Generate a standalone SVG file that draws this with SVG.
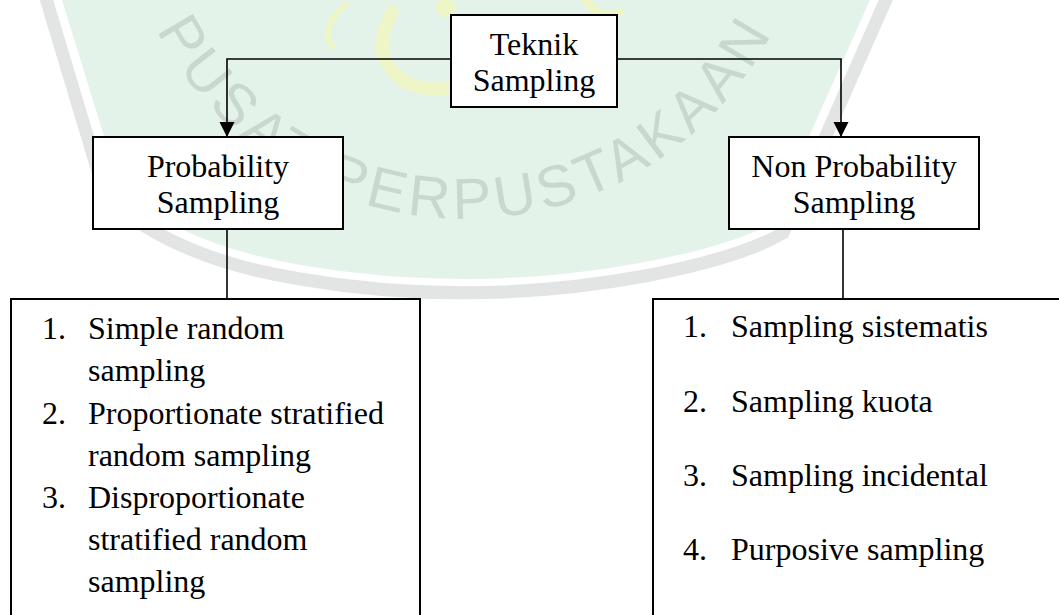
<svg xmlns="http://www.w3.org/2000/svg" width="1059" height="615" viewBox="0 0 1059 615">
  <defs>
    <style>
      .box { fill: #ffffff; stroke: #000000; stroke-width: 2; }
      .conn { fill: none; stroke: #000000; stroke-width: 1.6; }
      .lbl { font-family: "Liberation Serif", "Times New Roman", serif; font-size: 32px; fill: #000000; }
      .mid { text-anchor: middle; }
      .wm-text { font-family: "Liberation Sans", Arial, sans-serif; font-size: 58px; fill: #c9d8ce; letter-spacing: 5px; }
    </style>
    <marker id="arrow" markerUnits="userSpaceOnUse" markerWidth="16" markerHeight="16" refX="15" refY="7.5" orient="auto">
      <path d="M0,0 L15,7.5 L0,15 Z" fill="#000000"/>
    </marker>
    <path id="wmArc" d="M124.3,-66.9 A346,346 0 0 0 805.7,-66.9"/>
  </defs>

  <rect x="0" y="0" width="1059" height="615" fill="#ffffff"/>

  <!-- watermark -->
  <g id="watermark">
    <path d="M45,-5 L105,195 Q170,258 300,279 Q470,308 645,276 Q740,258 783,233 L888,-5" fill="none" stroke="#e3e5e4" stroke-width="13"/>
    <path d="M62,0 L120,188 Q180,244 300,265 Q470,294 640,263 Q730,246 770,224 L870,0 Z" fill="#e4f3ea"/>
    <path d="M346,4 Q318,30 332,46" fill="none" stroke="#eef5c6" stroke-width="6" stroke-linecap="round"/>
    <path d="M392,12 Q366,62 410,84 Q440,96 468,80" fill="none" stroke="#eef5c6" stroke-width="13" stroke-linecap="round"/>
    <ellipse cx="446" cy="8" rx="10" ry="9" fill="#eef5c6"/>
    <path d="M585,0 Q600,20 620,12" fill="none" stroke="#eef5c6" stroke-width="8" stroke-linecap="round"/>
    <text class="wm-text"><textPath href="#wmArc" startOffset="50%" text-anchor="middle">PUSAT PERPUSTAKAAN</textPath></text>
  </g>

  <!-- connectors -->
  <g id="connectors">
    <path class="conn" d="M451,59 L227,59 L227,137" marker-end="url(#arrow)"/>
    <path class="conn" d="M617,59 L841,59 L841,137" marker-end="url(#arrow)"/>
    <path class="conn" d="M227,229 L227,299"/>
    <path class="conn" d="M843,229 L843,302"/>
  </g>

  <!-- nodes -->
  <g id="node-teknik">
    <rect class="box" x="451" y="15" width="166" height="92"/>
    <text class="lbl mid" x="534" y="55">Teknik</text>
    <text class="lbl mid" x="534" y="91">Sampling</text>
  </g>

  <g id="node-probability">
    <rect class="box" x="93" y="137" width="250" height="92"/>
    <text class="lbl mid" x="218" y="177">Probability</text>
    <text class="lbl mid" x="218" y="213">Sampling</text>
  </g>

  <g id="node-nonprobability">
    <rect class="box" x="729" y="137" width="250" height="92"/>
    <text class="lbl mid" x="854" y="177">Non Probability</text>
    <text class="lbl mid" x="854" y="213">Sampling</text>
  </g>

  <g id="node-probability-list">
    <rect class="box" x="11" y="299" width="409" height="340"/>
    <text class="lbl" x="42" y="339">1.</text>
    <text class="lbl" x="88" y="339">Simple random</text>
    <text class="lbl" x="88" y="381">sampling</text>
    <text class="lbl" x="42" y="424">2.</text>
    <text class="lbl" x="88" y="424">Proportionate stratified</text>
    <text class="lbl" x="88" y="466">random sampling</text>
    <text class="lbl" x="42" y="508">3.</text>
    <text class="lbl" x="88" y="508">Disproportionate</text>
    <text class="lbl" x="88" y="550">stratified random</text>
    <text class="lbl" x="88" y="592">sampling</text>
  </g>

  <g id="node-nonprobability-list">
    <rect class="box" x="653" y="299" width="430" height="340"/>
    <text class="lbl" x="683" y="337">1.</text>
    <text class="lbl" x="731" y="337">Sampling sistematis</text>
    <text class="lbl" x="683" y="412">2.</text>
    <text class="lbl" x="731" y="412">Sampling kuota</text>
    <text class="lbl" x="683" y="486">3.</text>
    <text class="lbl" x="731" y="486">Sampling incidental</text>
    <text class="lbl" x="683" y="560">4.</text>
    <text class="lbl" x="731" y="560">Purposive sampling</text>
  </g>
</svg>
